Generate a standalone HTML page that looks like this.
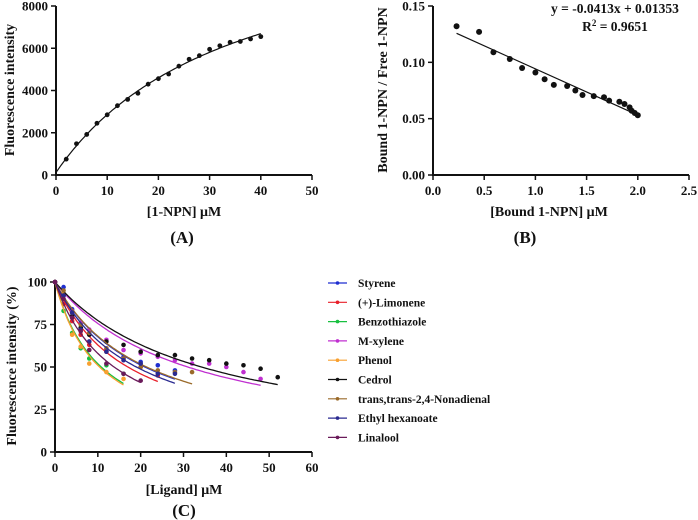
<!DOCTYPE html>
<html><head><meta charset="utf-8">
<style>
body{margin:0;background:#fff;}
svg{display:block;font-family:"Liberation Serif",serif;font-weight:bold;}
</style></head>
<body>
<svg id="fig" width="698" height="520" viewBox="0 0 698 520"></svg>
<script>
// Panel A data
const aX = [2,4,6,8,10,12,14,16,18,20,22,24,26,28,30,32,34,36,38,40];
const aY = [750,1480,1920,2450,2850,3280,3580,3870,4300,4560,4780,5150,5480,5650,5950,6120,6280,6320,6440,6550];
const aXTicks = [0,10,20,30,40,50];
const aYTicks = [0,2000,4000,6000,8000];
// Panel B data
const bX = [0.23,0.45,0.59,0.75,0.87,1.0,1.09,1.18,1.31,1.39,1.46,1.57,1.67,1.72,1.82,1.87,1.92,1.94,1.97,2.0];
const bY = [0.132,0.127,0.109,0.103,0.095,0.091,0.085,0.080,0.079,0.075,0.071,0.070,0.069,0.066,0.065,0.063,0.060,0.057,0.055,0.053];
const bXTicks = ["0.0","0.5","1.0","1.5","2.0","2.5"];
const bYTicks = ["0.00","0.05","0.10","0.15"];
// Panel C data
const cNames = ["Styrene","(+)-Limonene","Benzothiazole","M-xylene","Phenol","Cedrol","trans,trans-2,4-Nonadienal","Ethyl hexanoate","Linalool"];
const cColors = ["#1f2fd0","#e8202a","#18c040","#c030d0","#f8a030","#111111","#9a6a2a","#2a2a90","#6a1a5a"];
const cX0 = [0,2,4,6,8,12,16,20,24,28,32,36,40,44,48,52];
const cStyrene = [100,97,84,73,65,60,56,53,51,48];
const cLimonene = [100,87,77,69,63,59,55,50,45];
const cBenzo = [100,83,70,61,55,51,46];
const cXylene = [100,93,83,76,72,66,60,58,56,54,52,52,50,47,43];
const cPhenol = [100,93,69,62,52,47,43];
const cCedrol = [100,92,80,73,69,65,63,59,57,57,55,54,52,51,49,44];
const cNona = [100,95,82,75,70,61,55,50,48,47,47];
const cEthyl = [100,92,82,72,65,59,54,52,46,46];
const cLinalool = [100,90,79,71,60,52,46,42];
const cSeries = [cStyrene,cLimonene,cBenzo,cXylene,cPhenol,cCedrol,cNona,cEthyl,cLinalool];
const cXTicks = [0,10,20,30,40,50,60];
const cYTicks = [0,25,50,75,100];

const svg = document.getElementById('fig');
const NS = "http://www.w3.org/2000/svg";
function el(tag, attrs, parent){const e=document.createElementNS(NS,tag);for(const k in attrs)e.setAttribute(k,attrs[k]);(parent||svg).appendChild(e);return e;}
function txt(x,y,s,size,anchor,parent){const t=el('text',{x:x,y:y,'font-size':size,'text-anchor':anchor||'middle',fill:'#111'},parent);t.textContent=s;return t;}

function axes(g,L,R,T,B,xt,yt,xmax,ymax){
  el('line',{x1:L,y1:T,x2:L,y2:B+0.5,stroke:'#111','stroke-width':2},g);
  el('line',{x1:L-1,y1:B,x2:R,y2:B,stroke:'#111','stroke-width':2},g);
  xt.forEach(v=>{const x=L+(parseFloat(v)/xmax)*(R-L);el('line',{x1:x,y1:B,x2:x,y2:B+5,stroke:'#111','stroke-width':1.5},g);txt(x,B+20,String(v),13,'middle',g);});
  yt.forEach(v=>{const y=B-(parseFloat(v)/ymax)*(B-T);el('line',{x1:L-5,y1:y,x2:L,y2:y,stroke:'#111','stroke-width':1.5},g);txt(L-8,y+4.5,String(v),13,'end',g);});
}

// ---- Panel A
const gA=el('g',{});
const AL=56,AR=312,AT=6,AB=175;
const ax=v=>AL+v/50*(AR-AL), ay=v=>AB-v/8000*(AB-AT);
axes(gA,AL,AR,AT,AB,aXTicks,aYTicks,50,8000);
const ayl=txt(0,0,"Fluorescence intensity",14,'middle',gA);ayl.setAttribute('transform','translate(14,90) rotate(-90)');
const axl=txt(184,216,"[1-NPN] μM",14,'middle',gA);
const la=txt(182,243,"(A)",17,'middle',gA);
let best=null;
for(let K=5;K<=120;K+=0.5){for(let c=0;c<=800;c+=20){let sxy=0,sxx=0;aX.forEach((x,i)=>{const f=x/(K+x);sxy+=f*(aY[i]-c);sxx+=f*f;});const Bm=sxy/sxx;let e=0;aX.forEach((x,i)=>{const d=c+Bm*x/(K+x)-aY[i];e+=d*d;});if(!best||e<best.e)best={e,K,c,Bm};}}
let dA='';for(let x=0;x<=40.01;x+=0.5){const y=best.c+best.Bm*x/(best.K+x);dA+=(x?'L':'M')+ax(x).toFixed(1)+','+ay(y).toFixed(1);}
const fa=el('path',{d:dA,fill:'none',stroke:'#111','stroke-width':1.2},gA);
aX.forEach((x,i)=>{const p=el('circle',{cx:ax(x),cy:ay(aY[i]),r:2.4,fill:'#111'},gA);});

// ---- Panel B
const gB=el('g',{});
const BL=433,BR=689,BT=6,BB=175;
const bx=v=>BL+v/2.5*(BR-BL), by=v=>BB-v/0.15*(BB-BT);
axes(gB,BL,BR,BT,BB,bXTicks,bYTicks,2.5,0.15);
const byl=txt(0,0,"Bound 1-NPN / Free 1-NPN",14,'middle',gB);byl.setAttribute('transform','translate(387,90) rotate(-90)');
const bxl=txt(549,216,"[Bound 1-NPN] μM",14,'middle',gB);
const lb=txt(525,243,"(B)",17,'middle',gB);
const eq=txt(615,13,"y = -0.0413x +  0.01353",13.5,'middle',gB);
const r2=el('text',{x:615,y:31,'font-size':13.5,'text-anchor':'middle',fill:'#111'},gB);r2.innerHTML='R<tspan dy="-5" font-size="9">2</tspan><tspan dy="5"> = 0.9651</tspan>';
{let n=bX.length,mx=0,my=0;bX.forEach((x,i)=>{mx+=x;my+=bY[i];});mx/=n;my/=n;let sxy=0,sxx=0;bX.forEach((x,i)=>{sxy+=(x-mx)*(bY[i]-my);sxx+=(x-mx)**2;});const m=sxy/sxx,b0=my-m*mx;const x1=bX[0],x2=bX[n-2];
const ln=el('line',{x1:bx(x1),y1:by(m*x1+b0),x2:bx(x2),y2:by(m*x2+b0),stroke:'#111','stroke-width':1.2},gB);}
bX.forEach((x,i)=>{const p=el('circle',{cx:bx(x),cy:by(bY[i]),r:3,fill:'#111'},gB);});

// ---- Panel C
const gC=el('g',{});
const CL=55,CR=312,CT=282,CB=452;
const cx=v=>CL+v/60*(CR-CL), cy=v=>CB-v/100*(CB-CT);
axes(gC,CL,CR,CT,CB,cXTicks,cYTicks,60,100);
const cyl=txt(0,0,"Fluorescence intensity (%)",14,'middle',gC);cyl.setAttribute('transform','translate(16,366) rotate(-90)');
const cxl=txt(184,494,"[Ligand] μM",14,'middle',gC);
const lc=txt(184,516,"(C)",17,'middle',gC);
cSeries.forEach((ys,s)=>{
  const xs=cX0.slice(0,ys.length);
  let bk=1,be=1e18;for(let K=1;K<=200;K+=0.2){let e=0;xs.forEach((x,i)=>{const d=100*K/(K+x)-ys[i];e+=d*d;});if(e<be){be=e;bk=K;}}
  const xm=xs[xs.length-1];let d='';for(let x=0;x<=xm+0.01;x+=0.5){d+=(x?'L':'M')+cx(x).toFixed(1)+','+cy(100*bk/(bk+x)).toFixed(1);}
  const c=el('path',{d:d,fill:'none',stroke:cColors[s],'stroke-width':1.3},gC);
  
  
  xs.forEach((x,i)=>{const p=el('circle',{cx:cx(x),cy:cy(ys[i]),r:2.3,fill:cColors[s]},gC);
    
    });
  const y=283+s*19.3;
  const lg=el('g',{},gC);
  
  
  el('line',{x1:328,y1:y,x2:347,y2:y,stroke:cColors[s],'stroke-width':1.2},lg);
  el('circle',{cx:337.5,cy:y,r:1.8,fill:cColors[s]},lg);
  txt(358,y+4,cNames[s],11.5,'start',lg);
});
</script>
</body></html>
